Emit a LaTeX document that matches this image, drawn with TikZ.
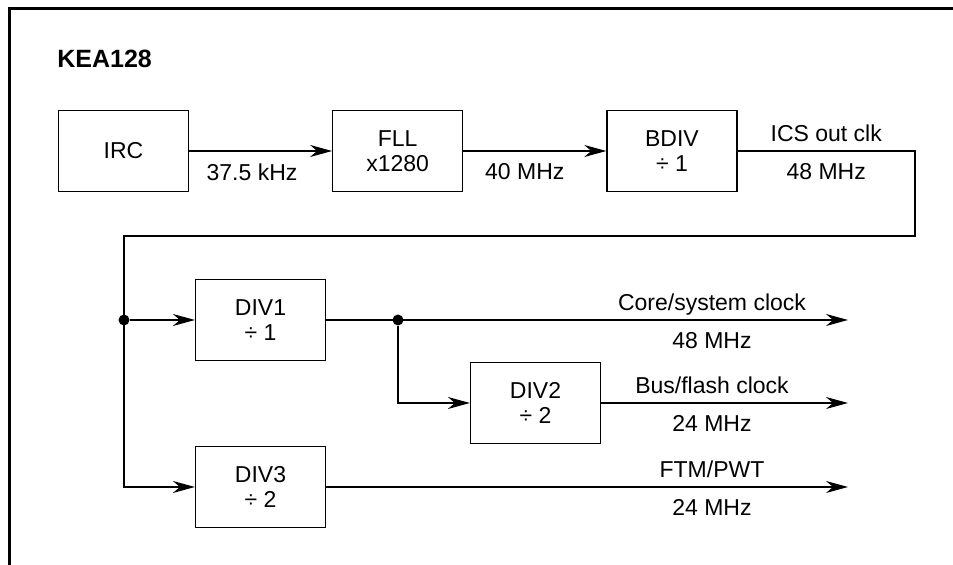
\documentclass[tikz,border=0pt]{standalone}
\usepackage{fontspec}
\setmainfont{Liberation Sans}
\usetikzlibrary{arrows.meta,positioning}
\newcommand{\lblfont}{\fontsize{11.5}{12.5}\selectfont}
\tikzset{blk/.style={draw, line width=0.6pt, align=center, inner sep=2pt, minimum width=65pt, minimum height=40.5pt, font=\lblfont},
         wire/.style={line width=0.6pt},
         arr/.style={-{Stealth[length=11pt, width=6pt, inset=3.5pt]}, line width=0.6pt},
         dot/.style={circle, fill, inner sep=0pt, minimum size=5.5pt},
         uplbl/.style={above=1.5pt, inner sep=3pt, text depth=0pt, font=\lblfont},
         lowlbl/.style={below=3pt, inner sep=3pt, font=\lblfont}}

\begin{document}
\begin{tikzpicture}[x=0.5pt, y=-0.5pt, node distance=71.5pt]
\useasboundingbox (0,0) rectangle (953,565);
\draw[line width=1.3pt] (9.5,575) -- (9.5,8.5) -- (965,8.5);
\node[font=\bfseries\fontsize{12.5}{14}\selectfont, anchor=west, inner sep=0pt] (title) at (57,58.5) {KEA128};
\node[blk] (irc) at (123.5,151) {IRC};
\node[blk, right=of irc] (fll) {FLL\\x1280};
\node[blk, right=of fll] (bdiv) {BDIV\\÷ 1};
\node[blk] (div1) at (260.5,320) {DIV1\\÷ 1};
\node[blk] (div2) at (535.5,403) {DIV2\\÷ 2};
\node[blk] (div3) at (260.5,487) {DIV3\\÷ 2};
\node[dot] (j1) at (124,320) {};
\node[dot] (j2) at (398,320) {};
\coordinate (c1) at (915,151);
\coordinate (c2) at (124,236);
\coordinate (o1) at (848,320);
\coordinate (o2) at (848,403);
\coordinate (o3) at (848,487);
\coordinate (lx) at (712,0);
\draw[arr] (irc) -- (fll) node[lowlbl, pos=0.44] {37.5 kHz};
\draw[arr] (fll) -- (bdiv) node[lowlbl, pos=0.43] {40 MHz};
\draw[arr] (bdiv) -- (c1) node[uplbl, midway] {ICS out clk} node[lowlbl, midway] {48 MHz} |- (c2) |- (div3);
\draw[arr] (j1) -- (div1);
\draw[arr] (div1) -- (o1);
\draw[arr] (j2) |- (div2);
\draw[arr] (div2) -- (o2);
\draw[arr] (div3) -- (o3);
\node[uplbl] at (lx |- o1) {Core/system clock};
\node[lowlbl] at (lx |- o1) {48 MHz};
\node[uplbl] at (lx |- o2) {Bus/flash clock};
\node[lowlbl] at (lx |- o2) {24 MHz};
\node[uplbl] at (lx |- o3) {FTM/PWT};
\node[lowlbl] at (lx |- o3) {24 MHz};
\end{tikzpicture}
\end{document}
